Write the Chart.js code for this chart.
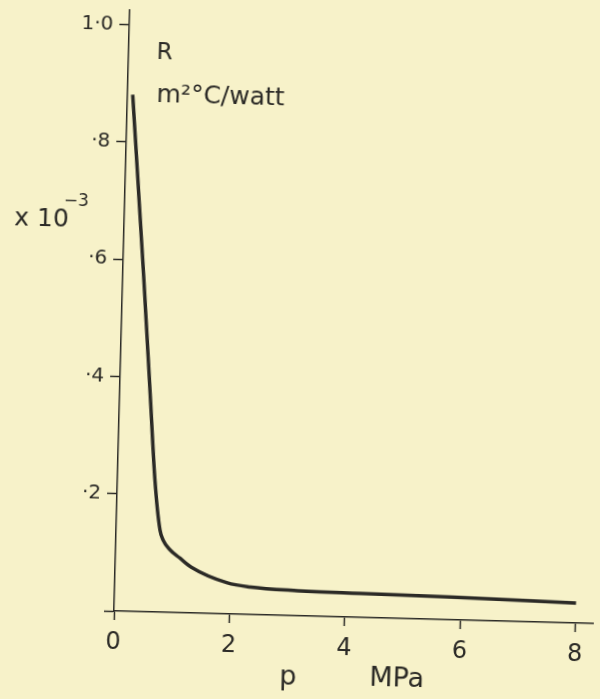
<!DOCTYPE html>
<html>
<head>
<meta charset="utf-8">
<script src="https://cdn.jsdelivr.net/npm/chart.js@4"></script>
<style>
  html, body { margin: 0; padding: 0; background: #f7f2c9; overflow: hidden; }
  /* the scanned figure sits slightly turned on the page */
  #rChart { position: absolute; left: 0; top: 0; transform: rotate(1.5deg); transform-origin: 114px 611px; }
</style>
</head>
<body>
<canvas id="rChart" width="600" height="699"></canvas>
<script>
// pressure p (MPa) and contact resistance R (x10^-3 m2 C/watt)
const pressure = [0.09, 0.36, 0.53, 0.65, 0.76, 0.82, 0.94, 1.12, 1.32, 1.95, 2.35, 3.1, 4.26, 5.83, 8.0];
const resistance = [0.881, 0.575, 0.370, 0.225, 0.140, 0.123, 0.107, 0.093, 0.078, 0.053, 0.047, 0.043, 0.041, 0.039, 0.034];

const xTicks = [0, 2, 4, 6, 8];
const yTicks = [0, 0.2, 0.4, 0.6, 0.8, 1.0];
const yTickLabels = ['', '·2', '·4', '·6', '·8', '1·0'];

const ink = '#2b2a26';
const ctx = document.getElementById('rChart').getContext('2d');

// labels that sit inside / beside the plot on the original drawing
const labelPlugin = {
    id: 'labels',
    afterDraw(chart) {
        const c = chart.ctx;
        const area = chart.chartArea;
        c.save();
        c.fillStyle = ink;
        c.textBaseline = 'alphabetic';
        c.textAlign = 'left';
        c.font = '23px "DejaVu Sans"';
        c.fillText('R', area.left + 28, area.top + 48);
        c.font = '25px "DejaVu Sans"';
        c.fillText('m²°C/watt', area.left + 29, area.top + 91);
        c.font = '25px "DejaVu Sans"';
        c.fillText('x 10', 4, 228);
        c.font = '17px "DejaVu Sans"';
        c.fillText('−3', 53, 207);
        c.font = '27px "DejaVu Sans"';
        c.fillText('p', 281, 680);
        c.fillText('MPa', 371, 679);
        c.restore();
    }
};

let chart = new Chart(ctx, {
    type: 'line',
    data: {
        datasets: [{
            label: 'R',
            data: pressure.map((p, i) => ({ x: p, y: resistance[i] })),
            borderColor: ink,
            borderWidth: 3.5,
            pointRadius: 0,
            fill: false,
            cubicInterpolationMode: 'monotone'
        }]
    },
    options: {
        responsive: false,
        animation: false,
        devicePixelRatio: 1,
        layout: { padding: { top: 10, right: 7, left: 0, bottom: 0 } },
        plugins: {
            legend: { display: false },
            tooltip: { enabled: false }
        },
        scales: {
            x: {
                type: 'linear',
                min: 0,
                max: 8.3,
                afterFit: scale => {
                    scale.height = 88;
                    scale.paddingLeft = 0;
                    scale.paddingRight = 0;
                },
                afterBuildTicks: scale => { scale.ticks = xTicks.map(v => ({ value: v })); },
                border: { display: true, color: ink, width: 1.5 },
                grid: { drawOnChartArea: false, drawTicks: true, tickLength: 9, tickColor: ink, tickWidth: 1.5 },
                ticks: {
                    color: ink,
                    padding: 8,
                    font: { family: 'DejaVu Sans', size: 24 },
                    maxRotation: 0,
                    callback: v => String(v)
                }
            },
            y: {
                type: 'linear',
                min: 0,
                max: 1.025,
                afterFit: scale => {
                    scale.width = 114;
                    scale.paddingTop = 0;
                    scale.paddingBottom = 0;
                },
                afterBuildTicks: scale => { scale.ticks = yTicks.map(v => ({ value: v })); },
                border: { display: true, color: ink, width: 1.5 },
                grid: { drawOnChartArea: false, drawTicks: true, tickLength: 10, tickColor: ink, tickWidth: 1.5 },
                ticks: {
                    color: ink,
                    padding: 6,
                    font: { family: 'DejaVu Sans', size: 20 },
                    callback: v => yTickLabels[yTicks.indexOf(v)] ?? ''
                }
            }
        }
    },
    plugins: [labelPlugin]
});
</script>
</body>
</html>
